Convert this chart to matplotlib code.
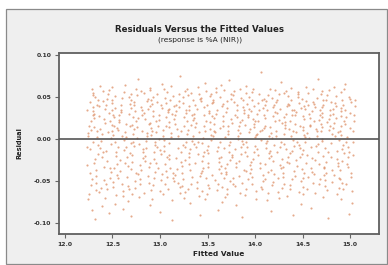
import matplotlib
matplotlib.use("Agg")
import matplotlib.pyplot as plt
import numpy as np
from matplotlib.patches import Rectangle

TITLE = "Residuals Versus the Fitted Values"
SUBTITLE = "(response is %A (NIR))"
X_LABEL = "Fitted Value"
Y_LABEL = "Residual"
X_TICKS = [12.0, 12.5, 13.0, 13.5, 14.0, 14.5, 15.0]
Y_TICKS = [-0.10, -0.05, 0.00, 0.05, 0.10]

# fitted values, in hundredths
FITTED = [
1226,1223,1228,1224,1229,1225,1227,1223,1226,1228,1224,1229,1227,1225,1223,1228,1226,1229,1224,1227,
1232,1235,1230,1233,1231,1234,1233,1230,1235,1231,1232,1234,1233,1231,1230,1235,1233,1232,1234,1231,
1242,1238,1236,1240,1237,1241,1239,1242,1236,1238,1240,1241,1237,1239,1242,1236,1240,1237,1241,1239,
1244,1247,1249,1243,1246,1248,1245,1244,1249,1247,1243,1246,1248,1249,1244,1247,1243,1246,1248,1245,
1254,1251,1253,1250,1255,1252,1251,1253,1254,1250,1255,1251,1253,1252,1250,1254,1251,1255,1253,1252,
1259,1256,1261,1257,1262,1258,1260,1256,1259,1261,1257,1262,1260,1258,1256,1261,1259,1262,1257,1260,
1269,1265,1263,1267,1264,1268,1266,1269,1263,1265,1267,1268,1264,1266,1269,1263,1267,1264,1268,1266,
1272,1275,1270,1273,1271,1274,1273,1270,1275,1271,1272,1274,1273,1271,1270,1275,1273,1272,1274,1271,
1277,1280,1282,1276,1279,1281,1278,1277,1282,1280,1276,1279,1281,1282,1277,1280,1276,1279,1281,1278,
1286,1283,1288,1284,1289,1285,1287,1283,1286,1288,1284,1289,1287,1285,1283,1288,1286,1289,1284,1287,
1294,1291,1293,1290,1295,1292,1291,1293,1294,1290,1295,1291,1293,1292,1290,1294,1291,1295,1293,1292,
1302,1298,1296,1300,1297,1301,1299,1302,1296,1298,1300,1301,1297,1299,1302,1296,1300,1297,1301,1299,
1305,1308,1303,1306,1304,1307,1306,1303,1308,1304,1305,1307,1306,1304,1303,1308,1306,1305,1307,1304,
1310,1313,1315,1309,1312,1314,1311,1310,1315,1313,1309,1312,1314,1315,1310,1313,1309,1312,1314,1311,
1319,1316,1321,1317,1322,1318,1320,1316,1319,1321,1317,1322,1320,1318,1316,1321,1319,1322,1317,1320,
1327,1324,1326,1323,1328,1325,1324,1326,1327,1323,1328,1324,1326,1325,1323,1327,1324,1328,1326,1325,
1335,1331,1329,1333,1330,1334,1332,1335,1329,1331,1333,1334,1330,1332,1335,1329,1333,1330,1334,1332,
1337,1340,1342,1336,1339,1341,1338,1337,1342,1340,1336,1339,1341,1342,1337,1340,1336,1339,1341,1338,
1345,1348,1343,1346,1344,1347,1346,1343,1348,1344,1345,1347,1346,1344,1343,1348,1346,1345,1347,1344,
1352,1349,1354,1350,1355,1351,1353,1349,1352,1354,1350,1355,1353,1351,1349,1354,1352,1355,1350,1353,
1362,1358,1356,1360,1357,1361,1359,1362,1356,1358,1360,1361,1357,1359,1362,1356,1360,1357,1361,1359,
1367,1364,1366,1363,1368,1365,1364,1366,1367,1363,1368,1364,1366,1365,1363,1367,1364,1368,1366,1365,
1370,1373,1375,1369,1372,1374,1371,1370,1375,1373,1369,1372,1374,1375,1370,1373,1369,1372,1374,1371,
1379,1376,1381,1377,1382,1378,1380,1376,1379,1381,1377,1382,1380,1378,1376,1381,1379,1382,1377,1380,
1385,1388,1383,1386,1384,1387,1386,1383,1388,1384,1385,1387,1386,1384,1383,1388,1386,1385,1387,1384,
1395,1391,1389,1393,1390,1394,1392,1395,1389,1391,1393,1394,1390,1392,1395,1389,1393,1390,1394,1392,
1400,1397,1399,1396,1401,1398,1397,1399,1400,1396,1401,1397,1399,1398,1396,1400,1397,1401,1399,1398,
1403,1406,1408,1402,1405,1407,1404,1403,1408,1406,1402,1405,1407,1408,1403,1406,1402,1405,1407,1404,
1412,1409,1414,1410,1415,1411,1413,1409,1412,1414,1410,1415,1413,1411,1409,1414,1412,1415,1410,1413,
1418,1421,1416,1419,1417,1420,1419,1416,1421,1417,1418,1420,1419,1417,1416,1421,1419,1418,1420,1417,
1428,1424,1422,1426,1423,1427,1425,1428,1422,1424,1426,1427,1423,1425,1428,1422,1426,1423,1427,1425,
1430,1433,1435,1429,1432,1434,1431,1430,1435,1433,1429,1432,1434,1435,1430,1433,1429,1432,1434,1431,
1440,1437,1439,1436,1441,1438,1437,1439,1440,1436,1441,1437,1439,1438,1436,1440,1437,1441,1439,1438,
1445,1442,1447,1443,1448,1444,1446,1442,1445,1447,1443,1448,1446,1444,1442,1447,1445,1448,1443,1446,
1451,1454,1449,1452,1450,1453,1452,1449,1454,1450,1451,1453,1452,1450,1449,1454,1452,1451,1453,1450,
1461,1457,1455,1459,1456,1460,1458,1461,1455,1457,1459,1460,1456,1458,1461,1455,1459,1456,1460,1458,
1463,1466,1468,1462,1465,1467,1464,1463,1468,1466,1462,1465,1467,1468,1463,1466,1462,1465,1467,1464,
1473,1470,1472,1469,1474,1471,1470,1472,1473,1469,1474,1470,1472,1471,1469,1473,1470,1474,1472,1471,
1478,1475,1480,1476,1481,1477,1479,1475,1478,1480,1476,1481,1479,1477,1475,1480,1478,1481,1476,1479,
1488,1484,1482,1486,1483,1487,1485,1488,1482,1484,1486,1487,1483,1485,1488,1482,1486,1483,1487,1485,
1491,1494,1489,1492,1490,1493,1492,1489,1494,1490,1491,1493,1492,1490,1489,1494,1492,1491,1493,1490,
1496,1499,1501,1495,1498,1500,1497,1496,1501,1499,1495,1498,1500,1501,1496,1499,1495,1498,1500,1497,
1504,1502,1505,1503,1502,1505,1503,1504,1503,
]

# residuals, in thousandths
RESIDUALS = [
-12,35,-48,7,52,-66,21,-31,44,-85,3,28,-55,16,-9,60,-40,38,-72,11,
-24,47,-3,-61,30,9,-37,55,-18,25,-95,41,-52,14,33,-7,-44,50,2,-28,
19,-58,39,-15,63,-33,6,-70,27,-2,45,-49,12,-21,36,-63,57,-11,24,-80,
48,-35,10,-54,31,-6,53,-26,17,-46,40,-88,1,34,-59,22,-14,58,-39,8,
-67,29,-4,46,-30,15,-51,37,-20,62,-43,5,-77,26,43,-16,-57,13,51,-34,
32,-9,-62,20,56,-25,4,-47,41,-68,23,-1,49,-38,11,-83,35,-13,28,-53,
54,-22,8,-60,18,42,-32,-5,64,-45,30,-17,2,-74,37,-29,50,-10,15,-56,
26,-41,47,-8,-65,33,12,-36,59,-19,6,-50,40,-27,-92,21,44,-3,-58,17,
-42,38,-12,52,-31,9,-69,25,-23,57,1,-48,34,-15,71,-37,14,-54,29,-6,
45,-64,18,-26,39,-2,-44,55,7,-33,24,-79,48,-11,31,-52,3,61,-20,36,
-47,13,50,-29,-7,42,-61,27,-16,58,-39,5,33,-71,19,-24,46,-4,-55,10,
37,-35,22,-13,53,-49,0,66,-28,15,-62,40,-9,29,-42,8,-87,44,-18,23,
-53,32,4,-38,60,-21,16,-66,35,-1,49,-45,26,-14,11,-59,43,-30,56,-8,
20,-73,39,-24,7,51,-34,14,-50,30,-5,63,-40,24,-19,-97,36,2,-46,47,
-11,28,-57,41,-27,12,54,-43,3,-64,33,-15,45,-36,18,75,-52,9,-23,38,
-3,-48,57,-32,21,-70,43,-10,31,-56,6,50,-25,16,-41,35,-7,59,-63,26,
46,-17,11,-54,34,-2,-76,23,52,-30,17,-45,39,-12,4,-60,55,-22,28,-37,
14,62,-44,-6,36,-68,19,-29,48,-3,30,-51,8,-90,41,-18,25,-58,53,-9,
-34,22,45,-15,-62,10,38,-41,57,-26,1,-72,29,-5,49,-47,15,-20,67,-38,
31,-13,5,-55,43,-28,20,-65,33,54,-8,-43,12,-33,40,-1,-58,27,-17,51,
-23,8,47,-61,25,-10,56,-36,3,-49,35,-84,18,61,-27,44,-14,9,-53,30,
58,-40,16,-4,-69,39,-21,27,-46,50,2,-32,42,-57,13,-11,64,-35,21,-75,
37,-7,53,-42,10,-25,45,-60,24,-16,32,6,-50,48,-30,70,-39,15,-4,-66,
28,-19,41,-53,0,57,-33,19,-12,35,-47,11,-78,44,-22,26,-56,4,52,-29,
-9,34,-44,23,-64,46,-2,15,-37,60,-18,38,-52,7,-26,31,-93,49,-6,20,
-41,55,-15,29,-59,8,42,-31,17,-3,-48,36,63,-20,12,-67,26,-38,50,-10,
22,-54,39,-27,5,59,-45,14,-8,33,-71,47,-16,24,-36,2,56,-62,18,-24,
43,-1,-50,30,-34,11,54,-19,37,-57,6,-29,46,-43,21,80,-12,9,-60,34,
-5,48,-39,16,-23,41,-73,28,-11,52,-30,3,35,-48,13,-64,45,-17,25,-2,
-55,32,60,-26,7,-42,38,-14,21,-86,49,-7,27,-37,14,58,-51,1,40,-20,
19,-63,44,-9,31,-35,53,-24,10,-46,36,68,-15,23,-58,4,-31,47,-3,-70,
26,-12,51,-40,17,39,-54,6,-22,57,-33,13,-68,42,-6,30,-45,20,-27,55,
-1,-59,34,12,-38,46,-17,28,-91,40,-8,22,-48,61,-29,9,-55,35,-14,3,
50,-44,15,-25,37,-4,-63,29,56,-21,8,-50,43,-32,18,-11,54,-77,32,-7,
11,45,-36,24,-57,2,39,-18,62,-47,27,-3,-41,14,48,-28,5,-66,36,-13,
-52,30,7,-34,55,-23,17,44,-60,1,-10,33,-45,25,59,-19,-82,41,-39,16,
38,-6,-48,21,49,-30,12,-64,28,-15,42,4,-53,34,-25,72,-42,10,23,-8,
-35,57,-20,9,-56,31,-2,46,-43,18,-11,38,-69,26,53,-33,14,-49,40,0,
24,-27,44,-61,6,-16,35,-40,58,-5,20,-51,29,-94,47,-22,11,-37,52,15,
-46,3,36,-14,62,-32,25,-58,13,43,-24,8,-43,51,-1,30,-65,19,-28,39,
56,-17,10,-52,33,-7,46,-37,22,-71,5,41,-26,16,-48,60,-12,27,-60,37,
-4,50,-41,18,-22,31,2,-54,44,-15,66,-33,13,-45,26,-89,35,-9,48,-30,
21,-62,39,-3,-76,47,-19,28,9,
]

W, H = 388, 265
fig = plt.figure(figsize=(W / 100, H / 100), dpi=100)
fig.patch.set_facecolor("white")

# outer light-grey panel (behind the axes)
fig.patches.append(Rectangle((6 / W, 1 / H), (387 - 6) / W, (264 - 9) / H,
                             transform=fig.transFigure, facecolor="#efefef",
                             edgecolor="#8a8a8a", linewidth=0.9, zorder=-5))

ax = fig.add_axes([59 / W, (H - 234) / H, (379 - 59) / W, (234 - 53) / H])
ax.set_zorder(1)
ax.set_facecolor("white")

x = np.array(FITTED) / 100.0
y = np.array(RESIDUALS) / 1000.0
ax.scatter(x, y, s=2.4, marker="o", color="#dd8f66", alpha=0.75,
           linewidths=0, zorder=2)
ax.axhline(0.0, color="#555555", linewidth=1.2, zorder=3)

ax.set_xlim(11.937, 15.305)
ax.set_ylim(-0.1131, 0.1024)
ax.set_xticks(X_TICKS)
ax.set_yticks(Y_TICKS)
ax.set_xticklabels([f"{v:.1f}" for v in X_TICKS])
ax.set_yticklabels([f"{v:.2f}" for v in Y_TICKS])
ax.tick_params(direction="out", length=3, width=0.8, color="#666666",
               labelsize=4.4, labelcolor="#333333", pad=2.5)
for lab in ax.get_xticklabels() + ax.get_yticklabels():
    lab.set_fontweight("bold")
for sp in ax.spines.values():
    sp.set_color("#606060")
    sp.set_linewidth(1.3)

ax.set_xlabel(X_LABEL, fontsize=5.3, fontweight="bold", color="#222222", labelpad=3)
ax.set_ylabel(Y_LABEL, fontsize=4.8, fontweight="bold", color="#222222", labelpad=8)

fig.text(200 / W, 1 - 29 / H, TITLE, ha="center", va="center",
         fontsize=6.2, fontweight="bold", color="#222222")
fig.text(200 / W, 1 - 40 / H, SUBTITLE, ha="center", va="center",
         fontsize=5.4, color="#222222")

fig.savefig("out.png", dpi=100)
